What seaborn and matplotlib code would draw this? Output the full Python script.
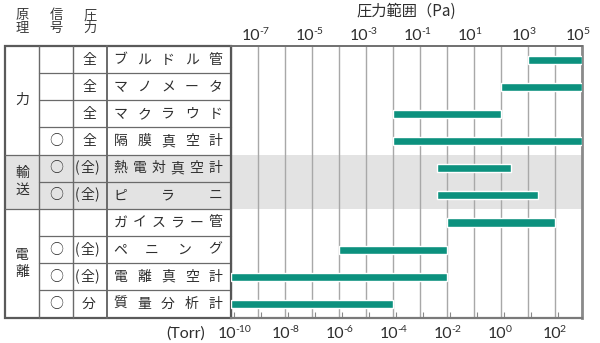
import numpy as np
import pandas as pd
import matplotlib
matplotlib.use("Agg")
import matplotlib.pyplot as plt
import matplotlib.transforms as mtransforms
from matplotlib.patches import Rectangle
import seaborn as sns

sns.set_theme(style="white")
JP = ['Noto Sans CJK JP', 'DejaVu Sans']
NUM = ['Lato', 'DejaVu Sans']
plt.rcParams['font.family'] = JP

# ---------------- data ----------------
names = ["ブルドル管", "マノメータ", "マクラウド", "隔膜真空計", "熱電対真空計",
         "ピラニ", "ガイスラー管", "ペニング", "電離真空計", "質量分析計"]
signal = ["", "", "", "○", "○", "○", "", "○", "○", "○"]
pressure = ["全", "全", "全", "全", "(全)", "(全)", "", "(全)", "(全)", "分"]
groups = ["力", "輸送", "電離"]
group_rows = [(0, 4), (4, 6), (6, 10)]
lo_pa = [1e3, 1e2, 1e-2, 1e-2, 0.43, 0.43, 1.0, 1e-4, 1e-8, 1e-8]
hi_pa = [1e5, 1e5, 1e2, 1e5, 240.0, 2400.0, 1e4, 1.0, 1.0, 1e-2]
pa_label_exps = [-7, -5, -3, -1, 1, 3, 5]
torr_label_exps = [-10, -8, -6, -4, -2, 0, 2]
torr_tick_exps = list(range(-10, 3))
headers = ["原\n理", "信\n号", "圧\n力"]
title = "圧力範囲（Pa)"
torr_unit = "(Torr)"
PA_PER_TORR = 133.322

# ---------------- layout (pixels) ----------------
W, H = 600, 343
X0, X1 = 230.7, 582.0
Y0, Y1 = 46.0, 317.5
TL = 5.0
COLS = [39.3, 73.3, 107.3]
nrows = len(names)
rh = (Y1 - Y0) / nrows

BAR = "#0c917e"
GRAY_BAND = "#e3e3e3"
LINE = "#6a6a6a"
GRID = "#a8a8a8"
TXT = "#2e2e2e"

fig = plt.figure(figsize=(W / 100, H / 100), dpi=100)
bg = fig.add_axes([0, 0, 1, 1], zorder=0)
bg.set_xlim(0, W)
bg.set_ylim(H, 0)
bg.axis("off")

ax = fig.add_axes([X0 / W, 1 - Y1 / H, (X1 - X0) / W, (Y1 - Y0) / H], zorder=1)
ax.patch.set_alpha(0)

# gray band for 輸送 rows
g0, g1 = group_rows[1]
bg.add_patch(Rectangle((TL, Y0 + g0 * rh), X1 - TL, (g1 - g0) * rh,
                       facecolor=GRAY_BAND, edgecolor="none", zorder=0))

# ---------------- bars ----------------
df = pd.DataFrame({
    "name": names,
    "lo": np.log10(lo_pa),
    "span": np.log10(hi_pa) - np.log10(lo_pa),
})
sns.barplot(data=df, x="span", y="name", orient="h", left=df["lo"].values,
            width=0.3, color=BAR, saturation=1, ax=ax, zorder=3)

ax.set_xlim(-8, 5)
ax.set_ylim(nrows - 0.5, -0.5)
ax.set_xticks(range(-8, 6))
ax.grid(axis="x", color=GRID, lw=1.0, zorder=1)
ax.grid(axis="y", visible=False)
ax.set_axisbelow(True)
ax.tick_params(length=0, labelbottom=False, labelleft=False)
ax.set_xlabel("")
ax.set_ylabel("")
for side, lw, c in [("left", 1.4, "#555555"), ("right", 2.0, "#8a8a8a"),
                    ("top", 1.4, "#707070"), ("bottom", 1.6, "#7a7a7a")]:
    ax.spines[side].set_visible(True)
    ax.spines[side].set_linewidth(lw)
    ax.spines[side].set_color(c)

# Torr ticks at the bottom (inside)
shift = np.log10(PA_PER_TORR)
sec = ax.secondary_xaxis("bottom", functions=(lambda p: p - shift, lambda t: t + shift))
sec.set_xticks(torr_tick_exps)
sec.tick_params(direction="in", length=4, width=0.8, color="#888888", labelbottom=False)
sec.spines["bottom"].set_visible(False)

# labels for powers of ten
def power_label(xdata, y_base, exp):
    tr = mtransforms.blended_transform_factory(ax.transData, bg.transData)
    tr10 = mtransforms.offset_copy(tr, fig=fig, x=1.8, y=0, units="points")
    trexp = mtransforms.offset_copy(tr, fig=fig, x=1.0, y=0, units="points")
    bg.text(xdata, y_base, "10", transform=tr10, ha="right", va="baseline",
            fontsize=11.5, family=NUM, color=TXT)
    bg.text(xdata, y_base - 5.5, str(exp), transform=trexp, ha="left",
            va="baseline", fontsize=7.5, family=NUM, color=TXT)

for e in pa_label_exps:
    power_label(e, 39.5, e)
for e in torr_label_exps:
    power_label(e + shift, 337.5, e)

bg.text(186, 337.5, torr_unit, ha="center", va="baseline", fontsize=11.5,
        family=NUM, color=TXT)
bg.text((X0 + X1) / 2, 11.5, title, ha="center", va="center", fontsize=11,
        color=TXT)

# ---------------- table ----------------
hx = [(TL + COLS[0]) / 2, (COLS[0] + COLS[1]) / 2, (COLS[1] + COLS[2]) / 2]
for x, h in zip(hx, headers):
    for k, ch in enumerate(h.split("\n")):
        bg.text(x, 16 + 12 * k, ch, ha="center", va="center", fontsize=9.5,
                color="#3a3a3a")

# outer border
bg.add_patch(Rectangle((TL, Y0), X0 - TL, Y1 - Y0, facecolor="none",
                       edgecolor="#5a5a5a", lw=1.6, zorder=2))
for cx in COLS:
    bg.plot([cx, cx], [Y0, Y1], color=LINE, lw=1.0 if cx != COLS[2] else 1.4, zorder=2)
for i in range(1, nrows):
    y = Y0 + i * rh
    bg.plot([COLS[0], X0], [y, y], color=LINE, lw=0.9, zorder=2)
for (a, b) in group_rows[1:]:
    y = Y0 + a * rh
    bg.plot([TL, COLS[0]], [y, y], color=LINE, lw=0.9, zorder=2)

# group labels (stacked vertically)
for g, (a, b) in zip(groups, group_rows):
    yc = Y0 + (a + b) / 2 * rh
    n = len(g)
    for k, ch in enumerate(g):
        bg.text(hx[0], yc + (k - (n - 1) / 2) * 17, ch, ha="center", va="center",
                fontsize=10, color=TXT)

name_l, name_r = 120.5, 215.5
for i in range(nrows):
    yc = Y0 + (i + 0.5) * rh
    if signal[i]:
        bg.text(hx[1], yc, signal[i], ha="center", va="center", fontsize=10,
                color=TXT)
    p = pressure[i]
    if len(p) == 1:
        bg.text(89, yc, p, ha="center", va="center", fontsize=10, color=TXT)
    elif len(p) == 3:
        # spread the parentheses a little, as in the reference
        for xc, ch in zip([77.0, 87.0, 97.0], p):
            bg.text(xc, yc, ch, ha="center", va="center", fontsize=10, color=TXT)
    chars = list(names[i])
    xs = np.linspace(name_l, name_r, len(chars))
    for x, ch in zip(xs, chars):
        bg.text(x, yc, ch, ha="center", va="center", fontsize=10, color=TXT)

fig.savefig("out.png", dpi=100)
